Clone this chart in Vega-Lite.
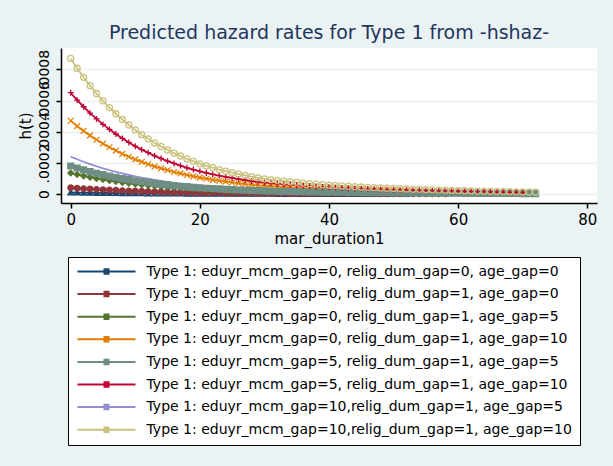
{
"$schema": "https://vega.github.io/schema/vega-lite/v6.json",
"width": 536, "height": 155,
"autosize": {"type": "none"},
"padding": {"left": 61, "top": 48, "right": 16, "bottom": 263},
"background": "#eaf2f3",
"view": {"fill": "white", "stroke": null},
"title": {"text": "Predicted hazard rates for Type 1 from -hshaz-", "font": "DejaVu Sans", "fontSize": 19, "fontWeight": "normal", "color": "#1f3560", "anchor": "middle", "offset": 5},
"datasets": {
"series": [
{"s":1,"label":"Type 1: eduyr_mcm_gap=0, relig_dum_gap=0, age_gap=0"},
{"s":2,"label":"Type 1: eduyr_mcm_gap=0, relig_dum_gap=1, age_gap=0"},
{"s":3,"label":"Type 1: eduyr_mcm_gap=0, relig_dum_gap=1, age_gap=5"},
{"s":4,"label":"Type 1: eduyr_mcm_gap=0, relig_dum_gap=1, age_gap=10"},
{"s":5,"label":"Type 1: eduyr_mcm_gap=5, relig_dum_gap=1, age_gap=5"},
{"s":6,"label":"Type 1: eduyr_mcm_gap=5, relig_dum_gap=1, age_gap=10"},
{"s":7,"label":"Type 1: eduyr_mcm_gap=10,relig_dum_gap=1, age_gap=5"},
{"s":8,"label":"Type 1: eduyr_mcm_gap=10,relig_dum_gap=1, age_gap=10"}
],
"hz": [
{"s":1,"t":0,"h":10e-6},{"s":1,"t":1,"h":9.3e-6},{"s":1,"t":2,"h":8.6e-6},{"s":1,"t":3,"h":8.0e-6},{"s":1,"t":4,"h":7.4e-6},{"s":1,"t":5,"h":6.9e-6},{"s":1,"t":6,"h":6.4e-6},{"s":1,"t":7,"h":5.9e-6},{"s":1,"t":8,"h":5.5e-6},{"s":1,"t":9,"h":5.1e-6},
{"s":1,"t":10,"h":4.7e-6},{"s":1,"t":11,"h":4.4e-6},{"s":1,"t":12,"h":4.1e-6},{"s":1,"t":13,"h":3.8e-6},{"s":1,"t":14,"h":3.5e-6},{"s":1,"t":15,"h":3.3e-6},{"s":1,"t":16,"h":3.0e-6},{"s":1,"t":17,"h":2.8e-6},{"s":1,"t":18,"h":2.6e-6},{"s":1,"t":19,"h":2.4e-6},
{"s":1,"t":20,"h":2.2e-6},{"s":1,"t":21,"h":2.1e-6},{"s":1,"t":22,"h":1.9e-6},{"s":1,"t":23,"h":1.8e-6},{"s":1,"t":24,"h":1.7e-6},{"s":1,"t":25,"h":1.6e-6},{"s":1,"t":26,"h":1.5e-6},{"s":1,"t":27,"h":1.4e-6},{"s":1,"t":28,"h":1.3e-6},{"s":1,"t":29,"h":1.2e-6},
{"s":1,"t":30,"h":1.1e-6},{"s":1,"t":31,"h":1.1e-6},{"s":1,"t":32,"h":1.0e-6},{"s":1,"t":33,"h":0.95e-6},{"s":1,"t":34,"h":0.9e-6},{"s":1,"t":35,"h":0.86e-6},{"s":1,"t":36,"h":0.81e-6},{"s":1,"t":37,"h":0.77e-6},{"s":1,"t":38,"h":0.73e-6},{"s":1,"t":39,"h":0.69e-6},
{"s":1,"t":40,"h":0.66e-6},{"s":1,"t":41,"h":0.63e-6},{"s":1,"t":42,"h":0.6e-6},{"s":1,"t":43,"h":0.57e-6},{"s":1,"t":44,"h":0.54e-6},{"s":1,"t":45,"h":0.52e-6},{"s":1,"t":46,"h":0.49e-6},{"s":1,"t":47,"h":0.47e-6},{"s":1,"t":48,"h":0.45e-6},{"s":1,"t":49,"h":0.43e-6},
{"s":1,"t":50,"h":0.41e-6},{"s":1,"t":51,"h":0.39e-6},{"s":1,"t":52,"h":0.37e-6},
{"s":2,"t":0,"h":40e-6},{"s":2,"t":1,"h":37e-6},{"s":2,"t":2,"h":34e-6},{"s":2,"t":3,"h":32e-6},{"s":2,"t":4,"h":30e-6},{"s":2,"t":5,"h":27e-6},{"s":2,"t":6,"h":26e-6},{"s":2,"t":7,"h":24e-6},{"s":2,"t":8,"h":22e-6},{"s":2,"t":9,"h":20e-6},
{"s":2,"t":10,"h":19e-6},{"s":2,"t":11,"h":18e-6},{"s":2,"t":12,"h":16e-6},{"s":2,"t":13,"h":15e-6},{"s":2,"t":14,"h":14e-6},{"s":2,"t":15,"h":13e-6},{"s":2,"t":16,"h":12e-6},{"s":2,"t":17,"h":11e-6},{"s":2,"t":18,"h":10e-6},{"s":2,"t":19,"h":9.6e-6},
{"s":2,"t":20,"h":8.9e-6},{"s":2,"t":21,"h":8.3e-6},{"s":2,"t":22,"h":7.8e-6},{"s":2,"t":23,"h":7.2e-6},{"s":2,"t":24,"h":6.8e-6},{"s":2,"t":25,"h":6.3e-6},{"s":2,"t":26,"h":5.9e-6},{"s":2,"t":27,"h":5.5e-6},{"s":2,"t":28,"h":5.1e-6},{"s":2,"t":29,"h":4.8e-6},
{"s":2,"t":30,"h":4.5e-6},{"s":2,"t":31,"h":4.2e-6},{"s":2,"t":32,"h":4.0e-6},{"s":2,"t":33,"h":3.8e-6},{"s":2,"t":34,"h":3.6e-6},{"s":2,"t":35,"h":3.4e-6},{"s":2,"t":36,"h":3.2e-6},{"s":2,"t":37,"h":3.1e-6},{"s":2,"t":38,"h":2.9e-6},{"s":2,"t":39,"h":2.8e-6},
{"s":2,"t":40,"h":2.6e-6},{"s":2,"t":41,"h":2.5e-6},{"s":2,"t":42,"h":2.4e-6},{"s":2,"t":43,"h":2.3e-6},{"s":2,"t":44,"h":2.2e-6},{"s":2,"t":45,"h":2.1e-6},{"s":2,"t":46,"h":2.0e-6},{"s":2,"t":47,"h":1.9e-6},{"s":2,"t":48,"h":1.8e-6},{"s":2,"t":49,"h":1.7e-6},
{"s":2,"t":50,"h":1.6e-6},{"s":2,"t":51,"h":1.6e-6},{"s":2,"t":52,"h":1.5e-6},{"s":2,"t":53,"h":1.4e-6},{"s":2,"t":54,"h":1.4e-6},{"s":2,"t":55,"h":1.3e-6},{"s":2,"t":56,"h":1.2e-6},{"s":2,"t":57,"h":1.2e-6},{"s":2,"t":58,"h":1.1e-6},
{"s":3,"t":0,"h":135e-6},{"s":3,"t":1,"h":125e-6},{"s":3,"t":2,"h":116e-6},{"s":3,"t":3,"h":108e-6},{"s":3,"t":4,"h":100e-6},{"s":3,"t":5,"h":93e-6},{"s":3,"t":6,"h":86e-6},{"s":3,"t":7,"h":80e-6},{"s":3,"t":8,"h":74e-6},{"s":3,"t":9,"h":69e-6},
{"s":3,"t":10,"h":64e-6},{"s":3,"t":11,"h":59e-6},{"s":3,"t":12,"h":55e-6},{"s":3,"t":13,"h":51e-6},{"s":3,"t":14,"h":47e-6},{"s":3,"t":15,"h":44e-6},{"s":3,"t":16,"h":41e-6},{"s":3,"t":17,"h":38e-6},{"s":3,"t":18,"h":35e-6},{"s":3,"t":19,"h":33e-6},
{"s":3,"t":20,"h":30e-6},{"s":3,"t":21,"h":28e-6},{"s":3,"t":22,"h":26e-6},{"s":3,"t":23,"h":24e-6},{"s":3,"t":24,"h":23e-6},{"s":3,"t":25,"h":21e-6},{"s":3,"t":26,"h":20e-6},{"s":3,"t":27,"h":18e-6},{"s":3,"t":28,"h":17e-6},{"s":3,"t":29,"h":16e-6},
{"s":3,"t":30,"h":15e-6},{"s":3,"t":31,"h":14e-6},{"s":3,"t":32,"h":14e-6},{"s":3,"t":33,"h":13e-6},{"s":3,"t":34,"h":12e-6},{"s":3,"t":35,"h":12e-6},{"s":3,"t":36,"h":11e-6},{"s":3,"t":37,"h":10e-6},{"s":3,"t":38,"h":9.9e-6},{"s":3,"t":39,"h":9.3e-6},
{"s":3,"t":40,"h":8.9e-6},{"s":3,"t":41,"h":8.5e-6},{"s":3,"t":42,"h":8.1e-6},{"s":3,"t":43,"h":7.7e-6},{"s":3,"t":44,"h":7.3e-6},{"s":3,"t":45,"h":7.0e-6},{"s":3,"t":46,"h":6.6e-6},{"s":3,"t":47,"h":6.3e-6},{"s":3,"t":48,"h":6.1e-6},{"s":3,"t":49,"h":5.8e-6},
{"s":3,"t":50,"h":5.5e-6},{"s":3,"t":51,"h":5.3e-6},{"s":3,"t":52,"h":5.0e-6},{"s":3,"t":53,"h":4.7e-6},{"s":3,"t":54,"h":4.6e-6},{"s":3,"t":55,"h":4.3e-6},{"s":3,"t":56,"h":4.2e-6},{"s":3,"t":57,"h":3.9e-6},{"s":3,"t":58,"h":3.8e-6},{"s":3,"t":59,"h":3.6e-6},
{"s":3,"t":60,"h":3.4e-6},{"s":3,"t":61,"h":3.2e-6},{"s":3,"t":62,"h":3.1e-6},
{"s":4,"t":0,"h":470e-6},{"s":4,"t":1,"h":436e-6},{"s":4,"t":2,"h":405e-6},{"s":4,"t":3,"h":376e-6},{"s":4,"t":4,"h":348e-6},{"s":4,"t":5,"h":323e-6},{"s":4,"t":6,"h":300e-6},{"s":4,"t":7,"h":278e-6},{"s":4,"t":8,"h":258e-6},{"s":4,"t":9,"h":239e-6},
{"s":4,"t":10,"h":222e-6},{"s":4,"t":11,"h":206e-6},{"s":4,"t":12,"h":191e-6},{"s":4,"t":13,"h":177e-6},{"s":4,"t":14,"h":165e-6},{"s":4,"t":15,"h":153e-6},{"s":4,"t":16,"h":141e-6},{"s":4,"t":17,"h":132e-6},{"s":4,"t":18,"h":122e-6},{"s":4,"t":19,"h":113e-6},
{"s":4,"t":20,"h":105e-6},{"s":4,"t":21,"h":98e-6},{"s":4,"t":22,"h":91e-6},{"s":4,"t":23,"h":85e-6},{"s":4,"t":24,"h":79e-6},{"s":4,"t":25,"h":74e-6},{"s":4,"t":26,"h":69e-6},{"s":4,"t":27,"h":64e-6},{"s":4,"t":28,"h":60e-6},{"s":4,"t":29,"h":56e-6},
{"s":4,"t":30,"h":53e-6},{"s":4,"t":31,"h":50e-6},{"s":4,"t":32,"h":47e-6},{"s":4,"t":33,"h":45e-6},{"s":4,"t":34,"h":42e-6},{"s":4,"t":35,"h":40e-6},{"s":4,"t":36,"h":38e-6},{"s":4,"t":37,"h":36e-6},{"s":4,"t":38,"h":34e-6},{"s":4,"t":39,"h":32e-6},
{"s":4,"t":40,"h":31e-6},{"s":4,"t":41,"h":30e-6},{"s":4,"t":42,"h":28e-6},{"s":4,"t":43,"h":27e-6},{"s":4,"t":44,"h":25e-6},{"s":4,"t":45,"h":24e-6},{"s":4,"t":46,"h":23e-6},{"s":4,"t":47,"h":22e-6},{"s":4,"t":48,"h":21e-6},{"s":4,"t":49,"h":20e-6},
{"s":4,"t":50,"h":19e-6},{"s":4,"t":51,"h":18e-6},{"s":4,"t":52,"h":17e-6},{"s":4,"t":53,"h":16e-6},{"s":4,"t":54,"h":16e-6},{"s":4,"t":55,"h":15e-6},{"s":4,"t":56,"h":15e-6},{"s":4,"t":57,"h":14e-6},{"s":4,"t":58,"h":13e-6},{"s":4,"t":59,"h":13e-6},
{"s":4,"t":60,"h":12e-6},{"s":4,"t":61,"h":11e-6},{"s":4,"t":62,"h":11e-6},{"s":4,"t":63,"h":10.3e-6},{"s":4,"t":64,"h":9.9e-6},
{"s":5,"t":0,"h":180e-6},{"s":5,"t":1,"h":167e-6},{"s":5,"t":2,"h":155e-6},{"s":5,"t":3,"h":144e-6},{"s":5,"t":4,"h":133e-6},{"s":5,"t":5,"h":124e-6},{"s":5,"t":6,"h":115e-6},{"s":5,"t":7,"h":107e-6},{"s":5,"t":8,"h":99e-6},{"s":5,"t":9,"h":92e-6},
{"s":5,"t":10,"h":85e-6},{"s":5,"t":11,"h":79e-6},{"s":5,"t":12,"h":73e-6},{"s":5,"t":13,"h":68e-6},{"s":5,"t":14,"h":63e-6},{"s":5,"t":15,"h":59e-6},{"s":5,"t":16,"h":54e-6},{"s":5,"t":17,"h":50e-6},{"s":5,"t":18,"h":47e-6},{"s":5,"t":19,"h":43e-6},
{"s":5,"t":20,"h":40e-6},{"s":5,"t":21,"h":37e-6},{"s":5,"t":22,"h":35e-6},{"s":5,"t":23,"h":33e-6},{"s":5,"t":24,"h":30e-6},{"s":5,"t":25,"h":28e-6},{"s":5,"t":26,"h":26e-6},{"s":5,"t":27,"h":25e-6},{"s":5,"t":28,"h":23e-6},{"s":5,"t":29,"h":22e-6},
{"s":5,"t":30,"h":20e-6},{"s":5,"t":31,"h":19e-6},{"s":5,"t":32,"h":18e-6},{"s":5,"t":33,"h":17e-6},{"s":5,"t":34,"h":16e-6},{"s":5,"t":35,"h":15e-6},{"s":5,"t":36,"h":15e-6},{"s":5,"t":37,"h":14e-6},{"s":5,"t":38,"h":13e-6},{"s":5,"t":39,"h":12e-6},
{"s":5,"t":40,"h":12e-6},{"s":5,"t":41,"h":11e-6},{"s":5,"t":42,"h":11e-6},{"s":5,"t":43,"h":10e-6},{"s":5,"t":44,"h":9.7e-6},{"s":5,"t":45,"h":9.4e-6},{"s":5,"t":46,"h":8.8e-6},{"s":5,"t":47,"h":8.5e-6},{"s":5,"t":48,"h":8.1e-6},{"s":5,"t":49,"h":7.7e-6},
{"s":5,"t":50,"h":7.4e-6},{"s":5,"t":51,"h":7.0e-6},{"s":5,"t":52,"h":6.7e-6},{"s":5,"t":53,"h":6.3e-6},{"s":5,"t":54,"h":6.1e-6},{"s":5,"t":55,"h":5.8e-6},{"s":5,"t":56,"h":5.6e-6},{"s":5,"t":57,"h":5.2e-6},{"s":5,"t":58,"h":5.0e-6},{"s":5,"t":59,"h":4.9e-6},
{"s":5,"t":60,"h":4.5e-6},{"s":5,"t":61,"h":4.3e-6},{"s":5,"t":62,"h":4.1e-6},{"s":5,"t":63,"h":4.0e-6},{"s":5,"t":64,"h":3.8e-6},{"s":5,"t":65,"h":3.6e-6},{"s":5,"t":66,"h":3.4e-6},{"s":5,"t":67,"h":3.2e-6},{"s":5,"t":68,"h":3.1e-6},{"s":5,"t":69,"h":2.9e-6},
{"s":5,"t":70,"h":2.7e-6},{"s":5,"t":71,"h":2.6e-6},{"s":5,"t":72,"h":2.5e-6},
{"s":6,"t":0,"h":650e-6},{"s":6,"t":1,"h":603e-6},{"s":6,"t":2,"h":560e-6},{"s":6,"t":3,"h":519e-6},{"s":6,"t":4,"h":482e-6},{"s":6,"t":5,"h":447e-6},{"s":6,"t":6,"h":415e-6},{"s":6,"t":7,"h":385e-6},{"s":6,"t":8,"h":357e-6},{"s":6,"t":9,"h":331e-6},
{"s":6,"t":10,"h":307e-6},{"s":6,"t":11,"h":285e-6},{"s":6,"t":12,"h":265e-6},{"s":6,"t":13,"h":245e-6},{"s":6,"t":14,"h":228e-6},{"s":6,"t":15,"h":211e-6},{"s":6,"t":16,"h":196e-6},{"s":6,"t":17,"h":182e-6},{"s":6,"t":18,"h":168e-6},{"s":6,"t":19,"h":157e-6},
{"s":6,"t":20,"h":145e-6},{"s":6,"t":21,"h":135e-6},{"s":6,"t":22,"h":126e-6},{"s":6,"t":23,"h":118e-6},{"s":6,"t":24,"h":110e-6},{"s":6,"t":25,"h":103e-6},{"s":6,"t":26,"h":96e-6},{"s":6,"t":27,"h":89e-6},{"s":6,"t":28,"h":83e-6},{"s":6,"t":29,"h":78e-6},
{"s":6,"t":30,"h":73e-6},{"s":6,"t":31,"h":69e-6},{"s":6,"t":32,"h":66e-6},{"s":6,"t":33,"h":62e-6},{"s":6,"t":34,"h":59e-6},{"s":6,"t":35,"h":56e-6},{"s":6,"t":36,"h":53e-6},{"s":6,"t":37,"h":50e-6},{"s":6,"t":38,"h":47e-6},{"s":6,"t":39,"h":45e-6},
{"s":6,"t":40,"h":43e-6},{"s":6,"t":41,"h":41e-6},{"s":6,"t":42,"h":39e-6},{"s":6,"t":43,"h":37e-6},{"s":6,"t":44,"h":35e-6},{"s":6,"t":45,"h":34e-6},{"s":6,"t":46,"h":32e-6},{"s":6,"t":47,"h":31e-6},{"s":6,"t":48,"h":29e-6},{"s":6,"t":49,"h":28e-6},
{"s":6,"t":50,"h":27e-6},{"s":6,"t":51,"h":25e-6},{"s":6,"t":52,"h":24e-6},{"s":6,"t":53,"h":23e-6},{"s":6,"t":54,"h":22e-6},{"s":6,"t":55,"h":21e-6},{"s":6,"t":56,"h":20e-6},{"s":6,"t":57,"h":19e-6},{"s":6,"t":58,"h":18e-6},{"s":6,"t":59,"h":18e-6},
{"s":6,"t":60,"h":16e-6},{"s":6,"t":61,"h":16e-6},{"s":6,"t":62,"h":15e-6},{"s":6,"t":63,"h":14e-6},{"s":6,"t":64,"h":14e-6},{"s":6,"t":65,"h":13e-6},{"s":6,"t":66,"h":12e-6},{"s":6,"t":67,"h":12e-6},{"s":6,"t":68,"h":11e-6},{"s":6,"t":69,"h":10e-6},
{"s":6,"t":70,"h":9.8e-6},
{"s":7,"t":0,"h":240e-6},{"s":7,"t":1,"h":223e-6},{"s":7,"t":2,"h":207e-6},{"s":7,"t":3,"h":192e-6},{"s":7,"t":4,"h":178e-6},{"s":7,"t":5,"h":165e-6},{"s":7,"t":6,"h":153e-6},{"s":7,"t":7,"h":142e-6},{"s":7,"t":8,"h":132e-6},{"s":7,"t":9,"h":122e-6},
{"s":7,"t":10,"h":113e-6},{"s":7,"t":11,"h":105e-6},{"s":7,"t":12,"h":98e-6},{"s":7,"t":13,"h":90e-6},{"s":7,"t":14,"h":84e-6},{"s":7,"t":15,"h":78e-6},{"s":7,"t":16,"h":72e-6},{"s":7,"t":17,"h":67e-6},{"s":7,"t":18,"h":62e-6},{"s":7,"t":19,"h":58e-6},
{"s":7,"t":20,"h":54e-6},{"s":7,"t":21,"h":50e-6},{"s":7,"t":22,"h":47e-6},{"s":7,"t":23,"h":43e-6},{"s":7,"t":24,"h":41e-6},{"s":7,"t":25,"h":38e-6},{"s":7,"t":26,"h":35e-6},{"s":7,"t":27,"h":33e-6},{"s":7,"t":28,"h":31e-6},{"s":7,"t":29,"h":29e-6},
{"s":7,"t":30,"h":27e-6},{"s":7,"t":31,"h":25e-6},{"s":7,"t":32,"h":24e-6},{"s":7,"t":33,"h":23e-6},{"s":7,"t":34,"h":22e-6},{"s":7,"t":35,"h":21e-6},{"s":7,"t":36,"h":19e-6},{"s":7,"t":37,"h":18e-6},{"s":7,"t":38,"h":18e-6},{"s":7,"t":39,"h":17e-6},
{"s":7,"t":40,"h":16e-6},{"s":7,"t":41,"h":15e-6},{"s":7,"t":42,"h":14e-6},{"s":7,"t":43,"h":14e-6},{"s":7,"t":44,"h":13e-6},{"s":7,"t":45,"h":12e-6},{"s":7,"t":46,"h":12e-6},{"s":7,"t":47,"h":11e-6},{"s":7,"t":48,"h":11e-6},{"s":7,"t":49,"h":10e-6},
{"s":7,"t":50,"h":9.8e-6},{"s":7,"t":51,"h":9.4e-6},{"s":7,"t":52,"h":8.9e-6},{"s":7,"t":53,"h":8.4e-6},{"s":7,"t":54,"h":8.2e-6},{"s":7,"t":55,"h":7.7e-6},{"s":7,"t":56,"h":7.4e-6},{"s":7,"t":57,"h":7.0e-6},{"s":7,"t":58,"h":6.7e-6},{"s":7,"t":59,"h":6.5e-6},
{"s":7,"t":60,"h":6.0e-6},{"s":7,"t":61,"h":5.8e-6},{"s":7,"t":62,"h":5.5e-6},{"s":7,"t":63,"h":5.3e-6},{"s":7,"t":64,"h":5.0e-6},{"s":7,"t":65,"h":4.8e-6},{"s":7,"t":66,"h":4.6e-6},
{"s":8,"t":0,"h":870e-6},{"s":8,"t":1,"h":807e-6},{"s":8,"t":2,"h":749e-6},{"s":8,"t":3,"h":695e-6},{"s":8,"t":4,"h":645e-6},{"s":8,"t":5,"h":598e-6},{"s":8,"t":6,"h":555e-6},{"s":8,"t":7,"h":515e-6},{"s":8,"t":8,"h":478e-6},{"s":8,"t":9,"h":443e-6},
{"s":8,"t":10,"h":411e-6},{"s":8,"t":11,"h":381e-6},{"s":8,"t":12,"h":354e-6},{"s":8,"t":13,"h":328e-6},{"s":8,"t":14,"h":305e-6},{"s":8,"t":15,"h":283e-6},{"s":8,"t":16,"h":262e-6},{"s":8,"t":17,"h":244e-6},{"s":8,"t":18,"h":225e-6},{"s":8,"t":19,"h":210e-6},
{"s":8,"t":20,"h":194e-6},{"s":8,"t":21,"h":181e-6},{"s":8,"t":22,"h":169e-6},{"s":8,"t":23,"h":157e-6},{"s":8,"t":24,"h":147e-6},{"s":8,"t":25,"h":137e-6},{"s":8,"t":26,"h":128e-6},{"s":8,"t":27,"h":119e-6},{"s":8,"t":28,"h":111e-6},{"s":8,"t":29,"h":104e-6},
{"s":8,"t":30,"h":97e-6},{"s":8,"t":31,"h":92e-6},{"s":8,"t":32,"h":88e-6},{"s":8,"t":33,"h":83e-6},{"s":8,"t":34,"h":78e-6},{"s":8,"t":35,"h":75e-6},{"s":8,"t":36,"h":70e-6},{"s":8,"t":37,"h":67e-6},{"s":8,"t":38,"h":64e-6},{"s":8,"t":39,"h":60e-6},
{"s":8,"t":40,"h":57e-6},{"s":8,"t":41,"h":55e-6},{"s":8,"t":42,"h":52e-6},{"s":8,"t":43,"h":50e-6},{"s":8,"t":44,"h":47e-6},{"s":8,"t":45,"h":45e-6},{"s":8,"t":46,"h":43e-6},{"s":8,"t":47,"h":41e-6},{"s":8,"t":48,"h":39e-6},{"s":8,"t":49,"h":37e-6},
{"s":8,"t":50,"h":36e-6},{"s":8,"t":51,"h":34e-6},{"s":8,"t":52,"h":32e-6},{"s":8,"t":53,"h":30e-6},{"s":8,"t":54,"h":30e-6},{"s":8,"t":55,"h":28e-6},{"s":8,"t":56,"h":27e-6},{"s":8,"t":57,"h":25e-6},{"s":8,"t":58,"h":24e-6},{"s":8,"t":59,"h":23e-6},
{"s":8,"t":60,"h":22e-6},{"s":8,"t":61,"h":21e-6},{"s":8,"t":62,"h":20e-6},{"s":8,"t":63,"h":19e-6},{"s":8,"t":64,"h":18e-6},{"s":8,"t":65,"h":17e-6},{"s":8,"t":66,"h":17e-6},{"s":8,"t":67,"h":16e-6},{"s":8,"t":68,"h":15e-6},{"s":8,"t":69,"h":14e-6},
{"s":8,"t":70,"h":13e-6},{"s":8,"t":71,"h":13e-6},{"s":8,"t":72,"h":12e-6}
]
},
"data": {"name": "hz"},
"transform": [{"lookup": "s", "from": {"data": {"name": "series"}, "key": "s", "fields": ["label"]}}],
"encoding": {
  "x": {"field": "t", "type": "quantitative",
    "scale": {"domain": [-1.5, 81.5], "nice": false, "zero": false},
    "axis": {"values": [0, 20, 40, 60, 80], "grid": false, "labelFlush": false, "labelFont": "DejaVu Sans", "labelFontSize": 15, "labelColor": "black", "labelPadding": 4,
      "tickSize": 5, "tickColor": "black", "tickWidth": 1.5, "domainColor": "black", "domainWidth": 1.5,
      "title": "mar_duration1", "titleFont": "DejaVu Sans", "titleFontSize": 15, "titleFontWeight": "normal", "titleColor": "black", "titlePadding": 4}},
  "y": {"field": "h", "type": "quantitative",
    "scale": {"domain": [-0.0000577, 0.000937], "nice": false, "zero": false},
    "axis": {"values": [0, 0.0002, 0.0004, 0.0006, 0.0008], "labelExpr": "replace(format(datum.value, '.4~f'), '0.', '.')",
      "labelAngle": 270, "labelOverlap": false, "labelFlush": false, "labelFont": "DejaVu Sans", "labelFontSize": 14, "labelColor": "black", "labelPadding": 5,
      "tickSize": 5, "tickColor": "black", "tickWidth": 1.5, "domainColor": "black", "domainWidth": 1.5,
      "grid": true, "gridColor": "#eaf2f3", "gridWidth": 1.5,
      "title": "h(t)", "titleFont": "DejaVu Sans", "titleFontSize": 15, "titleFontWeight": "normal", "titleColor": "black", "titlePadding": 4}},
  "color": {"field": "label", "type": "nominal",
    "scale": {"domain": [
      "Type 1: eduyr_mcm_gap=0, relig_dum_gap=0, age_gap=0",
      "Type 1: eduyr_mcm_gap=0, relig_dum_gap=1, age_gap=0",
      "Type 1: eduyr_mcm_gap=0, relig_dum_gap=1, age_gap=5",
      "Type 1: eduyr_mcm_gap=0, relig_dum_gap=1, age_gap=10",
      "Type 1: eduyr_mcm_gap=5, relig_dum_gap=1, age_gap=5",
      "Type 1: eduyr_mcm_gap=5, relig_dum_gap=1, age_gap=10",
      "Type 1: eduyr_mcm_gap=10,relig_dum_gap=1, age_gap=5",
      "Type 1: eduyr_mcm_gap=10,relig_dum_gap=1, age_gap=10"],
      "range": ["#1a476f", "#90353b", "#55752f", "#e37e00", "#6e8e84", "#c10534", "#938dd2", "#cac27e"]},
    "legend": {"orient": "none", "legendX": 7, "legendY": 209, "direction": "vertical", "title": null,
      "padding": 7.5, "fillColor": "white", "strokeColor": "black",
      "symbolType": "M-1,0H10.6M4.4,-0.45H5.2V0.45H4.4Z", "symbolSize": 100, "symbolStrokeWidth": 2,
      "labelFont": "DejaVu Sans", "labelFontSize": 14, "labelColor": "black", "labelLimit": 600, "labelOffset": 57, "rowPadding": 8.6,
      "encode": {"symbols": {"update": {"fill": {"scale": "color", "field": "value"}, "stroke": {"scale": "color", "field": "value"}, "strokeWidth": {"value": 2}, "opacity": {"value": 1}, "fillOpacity": {"value": 1}}}}}}
},
"layer": [
  {"mark": {"type": "line", "strokeWidth": 1.8, "clip": true}},
  {"transform": [{"filter": "datum.s != 7"}],
   "mark": {"type": "point", "filled": true, "strokeWidth": 1.3, "opacity": 1, "clip": true},
   "encoding": {
     "shape": {"field": "s", "type": "nominal", "scale": {"domain": [1, 2, 3, 4, 5, 6, 8], "range": ["triangle-up", "circle", "diamond", "M-1,-1L1,1M-1,1L1,-1", "square", "M-1,0H1M0,-1V1", "circle"]}, "legend": null},
     "size": {"field": "s", "type": "ordinal", "scale": {"domain": [1, 2, 3, 4, 5, 6, 8], "range": [30, 36, 40, 30, 50, 80, 45]}, "legend": null},
     "stroke": {"field": "label", "type": "nominal", "scale": {"domain": [
      "Type 1: eduyr_mcm_gap=0, relig_dum_gap=0, age_gap=0",
      "Type 1: eduyr_mcm_gap=0, relig_dum_gap=1, age_gap=0",
      "Type 1: eduyr_mcm_gap=0, relig_dum_gap=1, age_gap=5",
      "Type 1: eduyr_mcm_gap=0, relig_dum_gap=1, age_gap=10",
      "Type 1: eduyr_mcm_gap=5, relig_dum_gap=1, age_gap=5",
      "Type 1: eduyr_mcm_gap=5, relig_dum_gap=1, age_gap=10",
      "Type 1: eduyr_mcm_gap=10,relig_dum_gap=1, age_gap=5",
      "Type 1: eduyr_mcm_gap=10,relig_dum_gap=1, age_gap=10"],
      "range": ["#1a476f", "#90353b", "#55752f", "#e37e00", "#6e8e84", "#c10534", "#938dd2", "#cac27e"]}, "legend": null},
     "fillOpacity": {"condition": {"test": "datum.s == 8", "value": 0}, "value": 1}
   }}
]
}
